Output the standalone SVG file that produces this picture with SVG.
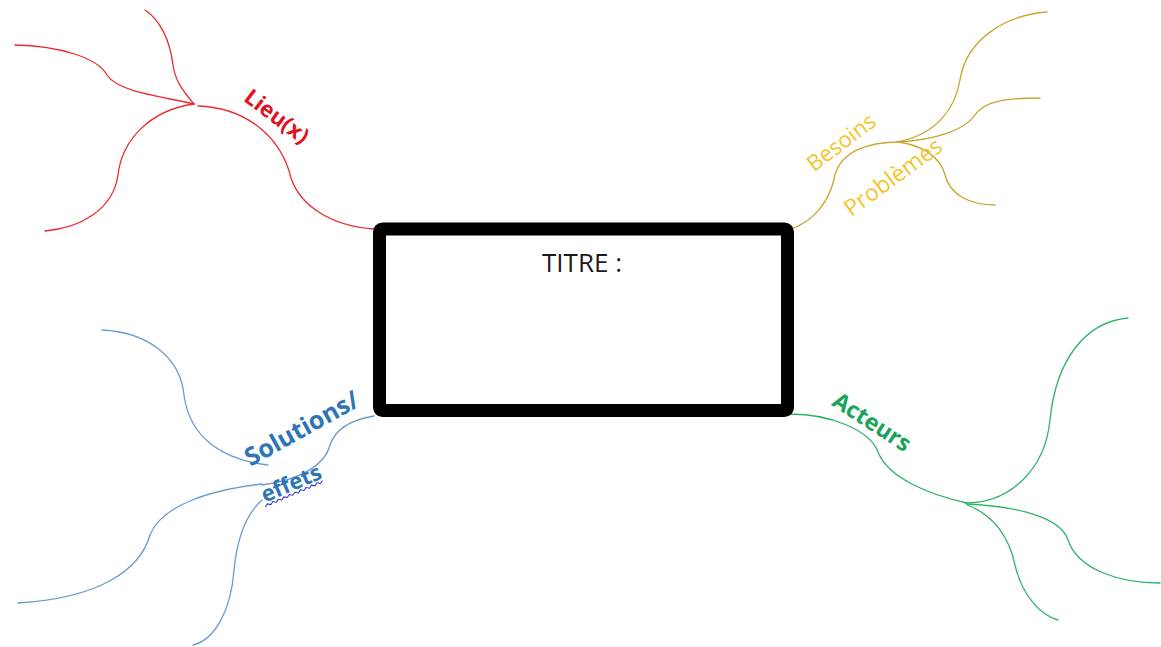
<svg xmlns="http://www.w3.org/2000/svg" width="1161" height="647" viewBox="0 0 1161 647">
<style>
.br{fill:none;stroke-width:1.3;stroke-linecap:round}
.red{stroke:#ec2a2f}
.yel{stroke:#c9a531}
.blu{stroke:#6a9bcb}
.grn{stroke:#2db36a}
.lbl{font-family:"Open Sans","Liberation Sans",sans-serif}
.b{font-weight:bold}
</style>
<rect width="1161" height="647" fill="#ffffff"/>
<g id="connectors">
  <g id="red-branches">
    <path class="br red" d="M374,229 C330,226 300,205 291,178 C282,140 250,108 198,106"/>
    <path class="br red" d="M194,104 C150,110 122,140 118,175 C113,210 80,228 45,231"/>
    <path class="br red" d="M194,104 C182,90 175,80 173,65 C170,40 160,20 145,10"/>
    <path class="br red" d="M194,104 C160,96 118,92 107,75 C98,58 60,46 15,45"/>
  </g>
  <g id="yellow-branches">
    <path class="br yel" d="M788,230 C815,222 830,200 835,175 C842,150 870,142 900,142"/>
    <path class="br yel" d="M897,142 C935,135 955,110 960,80 C966,40 1005,15 1047,12"/>
    <path class="br yel" d="M898,142 C935,140 965,130 975,115 C985,100 1010,98 1040,98"/>
    <path class="br yel" d="M898,142 C920,145 940,155 945,175 C950,195 970,205 995,205"/>
  </g>
  <g id="blue-branches">
    <path class="br blu" d="M374,416 C350,420 335,430 330,445 C325,465 300,480 262,485"/>
    <path class="br blu" d="M268,465 C225,460 190,440 184,395 C180,355 145,332 102,330"/>
    <path class="br blu" d="M262,484 C210,490 162,505 150,535 C140,570 100,598 18,603"/>
    <path class="br blu" d="M262,500 C245,515 237,540 234,570 C231,610 215,640 193,645"/>
  </g>
  <g id="green-branches">
    <path class="br grn" d="M790,414 C830,414 870,430 878,452 C888,478 930,495 967,503"/>
    <path class="br grn" d="M965,503 C1010,503 1045,470 1050,420 C1056,360 1085,322 1128,318"/>
    <path class="br grn" d="M967,504 C1010,506 1060,515 1068,540 C1078,570 1120,583 1160,583"/>
    <path class="br grn" d="M967,505 C995,515 1010,540 1015,565 C1022,595 1040,615 1058,620"/>
  </g>
</g>
<g id="title-node">
  <rect x="379.5" y="229" width="408" height="181.5" rx="3" fill="#ffffff" stroke="#000000" stroke-width="13"/>
  <text x="582" y="272" text-anchor="middle" font-family="Open Sans, Liberation Sans, sans-serif" font-size="26" fill="#1a1a1a">TITRE :</text>
</g>
<g id="lieux-node">
  <text class="lbl b" x="0" y="8" text-anchor="middle" fill="#e5101f" transform="translate(277,116) rotate(37)" font-size="22">Lieu(x)</text>
</g>
<g id="besoins-node">
  <text class="lbl" x="0" y="8" text-anchor="middle" fill="#f4c52a" transform="translate(841,142) rotate(-37)" font-size="22">Besoins</text>
  <text class="lbl" x="0" y="8" text-anchor="middle" fill="#f4c52a" transform="translate(893,177) rotate(-36)" font-size="23">Problèmes</text>
</g>
<g id="solutions-node">
  <text class="lbl b" x="0" y="8" text-anchor="middle" fill="#2e75b6" transform="translate(302,429) rotate(-29)" font-size="25">Solutions/</text>
  <g transform="translate(291,483) rotate(-23)">
    <text class="lbl b" x="0" y="8" text-anchor="middle" fill="#2e75b6" font-size="22">effets</text>
    <path d="M-33,12 l3,-2 l3,2 l3,-2 l3,2 l3,-2 l3,2 l3,-2 l3,2 l3,-2 l3,2 l3,-2 l3,2 l3,-2 l3,2 l3,-2 l3,2 l3,-2 l3,2 l3,-2 l3,2 l3,-2" fill="none" stroke="#3030d0" stroke-width="1"/>
  </g>
</g>
<g id="acteurs-node">
  <text class="lbl b" x="0" y="8" text-anchor="middle" fill="#1aa45a" transform="translate(872,422) rotate(33)" font-size="23">Acteurs</text>
</g>
</svg>
